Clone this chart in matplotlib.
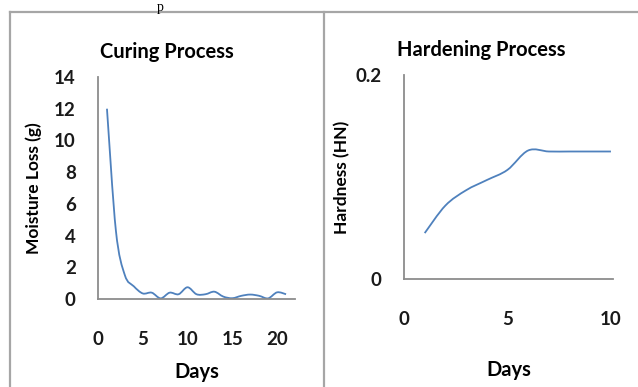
import matplotlib
matplotlib.use("Agg")
import matplotlib.pyplot as plt
from matplotlib.path import Path
from matplotlib.patches import PathPatch
from matplotlib.lines import Line2D

# ---- data ----
curing_days = list(range(1, 22))
moisture_loss = [12.0, 4.3, 1.5, 0.8, 0.35, 0.4, 0.04, 0.4, 0.3, 0.74, 0.3,
                 0.3, 0.46, 0.15, 0.05, 0.2, 0.28, 0.2, 0.04, 0.42, 0.3]
curing_xticks = [0, 5, 10, 15, 20]
curing_yticks = [0, 2, 4, 6, 8, 10, 12, 14]

hardening_days = list(range(1, 11))
hardness = [0.045, 0.072, 0.087, 0.097, 0.107, 0.126, 0.125, 0.125, 0.125, 0.125]
hardening_xticks = [0, 5, 10]
hardening_yticks = [0, 0.2]
hardening_yticklabels = ["0", "0.2"]

LINE_COLOR = "#4F81BD"
SPINE_COLOR = "#8C8C8C"
BORDER_COLOR = "#A6A6A6"
FONT = "Lato"
TICK_FS = 13.5
TITLE_FS = 14.5
LABEL_FS = 12.5


def smooth_path(xs, ys):
    """Catmull-Rom style smoothed path (like Excel's smoothed line)."""
    n = len(xs)
    verts = [(xs[0], ys[0])]
    codes = [Path.MOVETO]
    for i in range(n - 1):
        x0, y0 = xs[max(i - 1, 0)], ys[max(i - 1, 0)]
        x1, y1 = xs[i], ys[i]
        x2, y2 = xs[i + 1], ys[i + 1]
        x3, y3 = xs[min(i + 2, n - 1)], ys[min(i + 2, n - 1)]
        c1 = (x1 + (x2 - x0) / 6.0, y1 + (y2 - y0) / 6.0)
        c2 = (x2 - (x3 - x1) / 6.0, y2 - (y3 - y1) / 6.0)
        verts += [c1, c2, (x2, y2)]
        codes += [Path.CURVE4] * 3
    return Path(verts, codes)


W, H = 638, 387
fig = plt.figure(figsize=(W / 100, H / 100), dpi=100)


def style_axes(ax):
    for s in ("top", "right"):
        ax.spines[s].set_visible(False)
    for s in ("left", "bottom"):
        ax.spines[s].set_color(SPINE_COLOR)
        ax.spines[s].set_linewidth(1.3)
    ax.tick_params(length=0, labelsize=TICK_FS, colors="#1a1a1a")
    for lab in ax.get_xticklabels() + ax.get_yticklabels():
        lab.set_fontfamily(FONT)
        lab.set_fontweight("bold")


# ---- left: curing ----
ax1 = fig.add_axes([98 / W, 1 - 299 / H, (295 - 98) / W, (299 - 77) / H])
ax1.set_xlim(0, 22)
ax1.set_ylim(0, 14)
ax1.add_patch(PathPatch(smooth_path(curing_days, moisture_loss), fill=False,
                        edgecolor=LINE_COLOR, lw=1.3))
ax1.set_xticks(curing_xticks)
ax1.set_yticks(curing_yticks)
ax1.tick_params(axis="x", pad=23)
ax1.tick_params(axis="y", pad=16)
style_axes(ax1)
ax1.set_title("Curing Process", fontfamily=FONT, fontweight="bold", fontsize=TITLE_FS,
              pad=14, x=0.35)
ax1.set_xlabel("Days", fontfamily=FONT, fontweight="bold", fontsize=TITLE_FS, labelpad=10)
ax1.set_ylabel("Moisture Loss (g)", fontfamily=FONT, fontweight="bold", fontsize=LABEL_FS,
               labelpad=9)

# ---- right: hardening ----
ax2 = fig.add_axes([404 / W, 1 - 279 / H, (613 - 404) / W, (279 - 75) / H])
ax2.set_xlim(0, 10.1)
ax2.set_ylim(0, 0.2)
ax2.add_patch(PathPatch(smooth_path(hardening_days, hardness), fill=False,
                        edgecolor=LINE_COLOR, lw=1.3))
ax2.set_xticks(hardening_xticks)
ax2.set_yticks(hardening_yticks)
ax2.set_yticklabels(hardening_yticklabels)
ax2.tick_params(axis="x", pad=23)
ax2.tick_params(axis="y", pad=16)
style_axes(ax2)
ax2.set_title("Hardening Process", fontfamily=FONT, fontweight="bold", fontsize=TITLE_FS,
              pad=14, x=0.37)
ax2.set_xlabel("Days", fontfamily=FONT, fontweight="bold", fontsize=TITLE_FS, labelpad=23)
ax2.set_ylabel("Hardness (HN)", fontfamily=FONT, fontweight="bold", fontsize=LABEL_FS,
               labelpad=4)

# ---- panel borders ----
fig.add_artist(Line2D([10 / W, 1], [1 - 12 / H, 1 - 12 / H], transform=fig.transFigure,
                      color=BORDER_COLOR, lw=1.6))
fig.add_artist(Line2D([10 / W, 10 / W], [0, 1 - 12 / H], transform=fig.transFigure,
                      color=BORDER_COLOR, lw=1.6))
fig.add_artist(Line2D([324 / W, 324 / W], [0, 1 - 12 / H], transform=fig.transFigure,
                      color=BORDER_COLOR, lw=1.6))

# caption fragment at top
fig.text(160 / W, 1 - 1 / H, "p", fontfamily="Liberation Serif", fontsize=10,
         ha="center", va="top")

fig.savefig("out.png", dpi=100, facecolor="white")
